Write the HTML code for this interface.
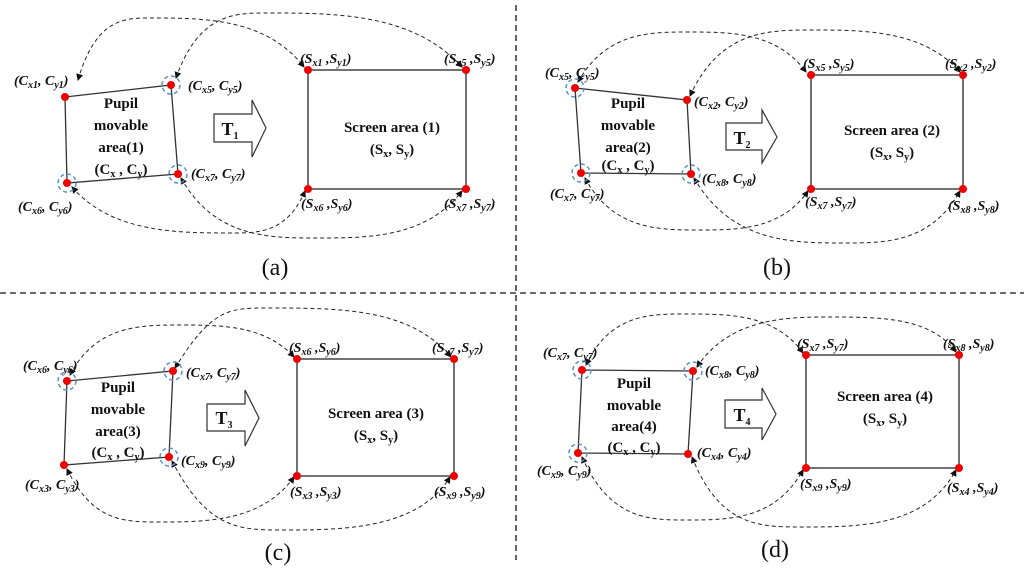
<!DOCTYPE html>
<html><head><meta charset="utf-8"><style>
html,body{margin:0;padding:0;background:#fff;}
svg{display:block;}
text{font-family:"Liberation Serif",serif;font-weight:bold;fill:#111;}
.l{font-size:14px;font-style:italic;}
.c{font-size:15px;text-anchor:middle;}
.cap{font-size:24px;font-weight:normal;text-anchor:middle;}
.s{font-size:10px;}
</style></head><body>
<svg width="1024" height="579" viewBox="0 0 1024 579" xmlns="http://www.w3.org/2000/svg">
<defs><marker id="ah" markerWidth="7" markerHeight="7" refX="6" refY="3.5" orient="auto-start-reverse"><path d="M0,0 L7,3.5 L0,7z" fill="#111"/></marker></defs>
<g stroke="#111" stroke-width="1.3" stroke-dasharray="6,4" fill="none">
<line x1="516" y1="5" x2="516" y2="560"/>
<line x1="0" y1="293" x2="1024" y2="293"/>
</g>

<g fill="none" stroke="#222" stroke-width="1" stroke-dasharray="4,3" marker-start="url(#ah)" marker-end="url(#ah)">
<!-- a -->
<path d="M78,80 C96,18 125,18 150,18 C204,18 266,18 304,67"/>
<path d="M176,78 C199,13 235,13 267,13 C335,13 413,13 462,67"/>
<path d="M72,187 C112,233 177,233 233,233 C258,233 287,233 305,191"/>
<path d="M181,178 C215,238 269,238 317,238 C368,238 426,238 462,191"/>
<!-- b -->
<path d="M578,82 C606,32 650,32 689,32 C730,32 777,32 806,72"/>
<path d="M690,96 C720,30 769,30 812,30 C864,30 923,30 960,72"/>
<path d="M585,178 C613,230 659,230 699,230 C737,230 781,230 808,191"/>
<path d="M694,178 C732,243 792,243 845,243 C885,243 931,243 960,191"/>
<!-- c -->
<path d="M70,375 C96,325 141,325 180,325 C220,325 265,325 294,357"/>
<path d="M175,368 C212,308 230,308 267,308 C340,308 410,308 451,357"/>
<path d="M67,469 C93,522 124,522 160,522 C205,522 262,522 294,477"/>
<path d="M172,461 C208,530 240,530 283,530 C340,530 418,530 450,477"/>
<!-- d -->
<path d="M586,365 C610,314 650,314 685,314 C730,314 775,314 803,353"/>
<path d="M697,367 C730,317 790,317 829,317 C880,317 930,317 956,352"/>
<path d="M582,457 C610,520 650,520 685,520 C730,520 775,520 803,470"/>
<path d="M692,457 C720,527 760,527 802,527 C860,527 925,527 956,470"/>
</g>

<!-- Panel a -->
<g>
<polygon points="65,97 171,85 178,174 67,183" fill="none" stroke="#333" stroke-width="1.3"/>
<rect x="308" y="70" width="158" height="119" fill="none" stroke="#444" stroke-width="1.5"/>
<g fill="none" stroke="#5b8fc9" stroke-width="1.5" stroke-dasharray="4,3"><circle cx="171" cy="85" r="9"/><circle cx="178" cy="174" r="9"/><circle cx="67" cy="183" r="9"/></g>
<g fill="#e00"><circle cx="65" cy="97" r="4"/><circle cx="171" cy="85" r="4"/><circle cx="178" cy="174" r="4"/><circle cx="67" cy="183" r="4"/><circle cx="308" cy="70" r="4"/><circle cx="466" cy="70" r="4"/><circle cx="308" cy="189" r="4"/><circle cx="466" cy="189" r="4"/></g>
<polygon points="214,114 252,114 252,100 266,128 252,157 252,142 214,142" fill="#fff" stroke="#333" stroke-width="1.2"/>
<text x="230" y="135" style="font-size:18px;text-anchor:middle">T<tspan class="s" dy="4">1</tspan></text>
<text class="c" x="121" y="108">Pupil</text><text class="c" x="121" y="130">movable</text><text class="c" x="121" y="152">area(1)</text><text class="c" x="121" y="174">(C<tspan class="s" dy="3">x</tspan><tspan dy="-3"> , C</tspan><tspan class="s" dy="3">y</tspan><tspan dy="-3">)</tspan></text>
<text class="l" x="14" y="85">(C<tspan class="s" dy="3">x1</tspan><tspan dy="-3">, C</tspan><tspan class="s" dy="3">y1</tspan><tspan dy="-3">)</tspan></text>
<text class="l" x="188" y="90">(C<tspan class="s" dy="3">x5</tspan><tspan dy="-3">, C</tspan><tspan class="s" dy="3">y5</tspan><tspan dy="-3">)</tspan></text>
<text class="l" x="191" y="178">(C<tspan class="s" dy="3">x7</tspan><tspan dy="-3">, C</tspan><tspan class="s" dy="3">y7</tspan><tspan dy="-3">)</tspan></text>
<text class="l" x="18" y="211">(C<tspan class="s" dy="3">x6</tspan><tspan dy="-3">, C</tspan><tspan class="s" dy="3">y6</tspan><tspan dy="-3">)</tspan></text>
<text class="l" x="300" y="63">(S<tspan class="s" dy="3">x1</tspan><tspan dy="-3"> ,S</tspan><tspan class="s" dy="3">y1</tspan><tspan dy="-3">)</tspan></text>
<text class="l" x="444" y="63">(S<tspan class="s" dy="3">x5</tspan><tspan dy="-3"> ,S</tspan><tspan class="s" dy="3">y5</tspan><tspan dy="-3">)</tspan></text>
<text class="l" x="301" y="208">(S<tspan class="s" dy="3">x6</tspan><tspan dy="-3"> ,S</tspan><tspan class="s" dy="3">y6</tspan><tspan dy="-3">)</tspan></text>
<text class="l" x="444" y="208">(S<tspan class="s" dy="3">x7</tspan><tspan dy="-3"> ,S</tspan><tspan class="s" dy="3">y7</tspan><tspan dy="-3">)</tspan></text>
<text class="c" x="392" y="132">Screen area (1)</text>
<text class="c" x="392" y="154">(S<tspan class="s" dy="3">x</tspan><tspan dy="-3">, S</tspan><tspan class="s" dy="3">y</tspan><tspan dy="-3">)</tspan></text>
<text class="cap" x="275" y="275">(a)</text>
</g>

<!-- Panel b -->
<g>
<polygon points="575,88 687,100 691,174 581,173" fill="none" stroke="#333" stroke-width="1.3"/>
<rect x="811" y="75" width="152" height="114" fill="none" stroke="#444" stroke-width="1.5"/>
<g fill="none" stroke="#5b8fc9" stroke-width="1.5" stroke-dasharray="4,3"><circle cx="575" cy="88" r="9"/><circle cx="691" cy="174" r="9"/><circle cx="581" cy="173" r="9"/></g>
<g fill="#e00"><circle cx="575" cy="88" r="4"/><circle cx="687" cy="100" r="4"/><circle cx="691" cy="174" r="4"/><circle cx="581" cy="173" r="4"/><circle cx="811" cy="75" r="4"/><circle cx="963" cy="75" r="4"/><circle cx="811" cy="189" r="4"/><circle cx="963" cy="189" r="4"/></g>
<polygon points="726,123 762,123 762,110 777,137 762,163 762,150 726,150" fill="#fff" stroke="#333" stroke-width="1.2"/>
<text x="742" y="144" style="font-size:18px;text-anchor:middle">T<tspan class="s" dy="4">2</tspan></text>
<text class="c" x="628" y="108">Pupil</text><text class="c" x="628" y="130">movable</text><text class="c" x="628" y="152">area(2)</text><text class="c" x="628" y="170">(C<tspan class="s" dy="3">x</tspan><tspan dy="-3"> , C</tspan><tspan class="s" dy="3">y</tspan><tspan dy="-3">)</tspan></text>
<text class="l" x="545" y="77">(C<tspan class="s" dy="3">x5</tspan><tspan dy="-3">, C</tspan><tspan class="s" dy="3">y5</tspan><tspan dy="-3">)</tspan></text>
<text class="l" x="694" y="106">(C<tspan class="s" dy="3">x2</tspan><tspan dy="-3">, C</tspan><tspan class="s" dy="3">y2</tspan><tspan dy="-3">)</tspan></text>
<text class="l" x="702" y="183">(C<tspan class="s" dy="3">x8</tspan><tspan dy="-3">, C</tspan><tspan class="s" dy="3">y8</tspan><tspan dy="-3">)</tspan></text>
<text class="l" x="550" y="198">(C<tspan class="s" dy="3">x7</tspan><tspan dy="-3">, C</tspan><tspan class="s" dy="3">y7</tspan><tspan dy="-3">)</tspan></text>
<text class="l" x="803" y="68">(S<tspan class="s" dy="3">x5</tspan><tspan dy="-3"> ,S</tspan><tspan class="s" dy="3">y5</tspan><tspan dy="-3">)</tspan></text>
<text class="l" x="945" y="68">(S<tspan class="s" dy="3">x2</tspan><tspan dy="-3"> ,S</tspan><tspan class="s" dy="3">y2</tspan><tspan dy="-3">)</tspan></text>
<text class="l" x="805" y="206">(S<tspan class="s" dy="3">x7</tspan><tspan dy="-3"> ,S</tspan><tspan class="s" dy="3">y7</tspan><tspan dy="-3">)</tspan></text>
<text class="l" x="948" y="210">(S<tspan class="s" dy="3">x8</tspan><tspan dy="-3"> ,S</tspan><tspan class="s" dy="3">y8</tspan><tspan dy="-3">)</tspan></text>
<text class="c" x="892" y="135">Screen area (2)</text>
<text class="c" x="892" y="157">(S<tspan class="s" dy="3">x</tspan><tspan dy="-3">, S</tspan><tspan class="s" dy="3">y</tspan><tspan dy="-3">)</tspan></text>
<text class="cap" x="777" y="275">(b)</text>
</g>

<!-- Panel c -->
<g>
<polygon points="67,381 173,371 169,457 64,465" fill="none" stroke="#333" stroke-width="1.3"/>
<rect x="297" y="359" width="157" height="117" fill="none" stroke="#444" stroke-width="1.5"/>
<g fill="none" stroke="#5b8fc9" stroke-width="1.5" stroke-dasharray="4,3"><circle cx="67" cy="381" r="9"/><circle cx="173" cy="371" r="9"/><circle cx="169" cy="457" r="9"/></g>
<g fill="#e00"><circle cx="67" cy="381" r="4"/><circle cx="173" cy="371" r="4"/><circle cx="169" cy="457" r="4"/><circle cx="64" cy="465" r="4"/><circle cx="297" cy="359" r="4"/><circle cx="454" cy="359" r="4"/><circle cx="297" cy="476" r="4"/><circle cx="454" cy="476" r="4"/></g>
<polygon points="207,404 245,404 245,390 259,418 245,446 245,431 207,431" fill="#fff" stroke="#333" stroke-width="1.2"/>
<text x="224" y="424" style="font-size:18px;text-anchor:middle">T<tspan class="s" dy="4">3</tspan></text>
<text class="c" x="118" y="392">Pupil</text><text class="c" x="118" y="414">movable</text><text class="c" x="118" y="436">area(3)</text><text class="c" x="118" y="457">(C<tspan class="s" dy="3">x</tspan><tspan dy="-3"> , C</tspan><tspan class="s" dy="3">y</tspan><tspan dy="-3">)</tspan></text>
<text class="l" x="23" y="370">(C<tspan class="s" dy="3">x6</tspan><tspan dy="-3">, C</tspan><tspan class="s" dy="3">y6</tspan><tspan dy="-3">)</tspan></text>
<text class="l" x="186" y="377">(C<tspan class="s" dy="3">x7</tspan><tspan dy="-3">, C</tspan><tspan class="s" dy="3">y7</tspan><tspan dy="-3">)</tspan></text>
<text class="l" x="181" y="465">(C<tspan class="s" dy="3">x9</tspan><tspan dy="-3">, C</tspan><tspan class="s" dy="3">y9</tspan><tspan dy="-3">)</tspan></text>
<text class="l" x="25" y="489">(C<tspan class="s" dy="3">x3</tspan><tspan dy="-3">, C</tspan><tspan class="s" dy="3">y3</tspan><tspan dy="-3">)</tspan></text>
<text class="l" x="289" y="352">(S<tspan class="s" dy="3">x6</tspan><tspan dy="-3"> ,S</tspan><tspan class="s" dy="3">y6</tspan><tspan dy="-3">)</tspan></text>
<text class="l" x="432" y="352">(S<tspan class="s" dy="3">x7</tspan><tspan dy="-3"> ,S</tspan><tspan class="s" dy="3">y7</tspan><tspan dy="-3">)</tspan></text>
<text class="l" x="290" y="496">(S<tspan class="s" dy="3">x3</tspan><tspan dy="-3"> ,S</tspan><tspan class="s" dy="3">y3</tspan><tspan dy="-3">)</tspan></text>
<text class="l" x="434" y="496">(S<tspan class="s" dy="3">x9</tspan><tspan dy="-3"> ,S</tspan><tspan class="s" dy="3">y9</tspan><tspan dy="-3">)</tspan></text>
<text class="c" x="376" y="418">Screen area (3)</text>
<text class="c" x="376" y="440">(S<tspan class="s" dy="3">x</tspan><tspan dy="-3">, S</tspan><tspan class="s" dy="3">y</tspan><tspan dy="-3">)</tspan></text>
<text class="cap" x="278" y="560">(c)</text>
</g>

<!-- Panel d -->
<g>
<polygon points="582,370 693,371 688,454 578,453" fill="none" stroke="#333" stroke-width="1.3"/>
<rect x="806" y="355" width="153" height="113" fill="none" stroke="#444" stroke-width="1.5"/>
<g fill="none" stroke="#5b8fc9" stroke-width="1.5" stroke-dasharray="4,3"><circle cx="582" cy="370" r="9"/><circle cx="693" cy="371" r="9"/><circle cx="578" cy="453" r="9"/></g>
<g fill="#e00"><circle cx="582" cy="370" r="4"/><circle cx="693" cy="371" r="4"/><circle cx="688" cy="454" r="4"/><circle cx="578" cy="453" r="4"/><circle cx="806" cy="355" r="4"/><circle cx="959" cy="355" r="4"/><circle cx="806" cy="468" r="4"/><circle cx="959" cy="468" r="4"/></g>
<polygon points="725,400 762,400 762,388 776,414 762,440 762,428 725,428" fill="#fff" stroke="#333" stroke-width="1.2"/>
<text x="742" y="421" style="font-size:18px;text-anchor:middle">T<tspan class="s" dy="4">4</tspan></text>
<text class="c" x="634" y="388">Pupil</text><text class="c" x="634" y="410">movable</text><text class="c" x="634" y="431">area(4)</text><text class="c" x="634" y="452">(C<tspan class="s" dy="3">x</tspan><tspan dy="-3"> , C</tspan><tspan class="s" dy="3">y</tspan><tspan dy="-3">)</tspan></text>
<text class="l" x="543" y="357">(C<tspan class="s" dy="3">x7</tspan><tspan dy="-3">, C</tspan><tspan class="s" dy="3">y7</tspan><tspan dy="-3">)</tspan></text>
<text class="l" x="705" y="375">(C<tspan class="s" dy="3">x8</tspan><tspan dy="-3">, C</tspan><tspan class="s" dy="3">y8</tspan><tspan dy="-3">)</tspan></text>
<text class="l" x="697" y="457">(C<tspan class="s" dy="3">x4</tspan><tspan dy="-3">, C</tspan><tspan class="s" dy="3">y4</tspan><tspan dy="-3">)</tspan></text>
<text class="l" x="537" y="475">(C<tspan class="s" dy="3">x9</tspan><tspan dy="-3">, C</tspan><tspan class="s" dy="3">y9</tspan><tspan dy="-3">)</tspan></text>
<text class="l" x="797" y="348">(S<tspan class="s" dy="3">x7</tspan><tspan dy="-3"> ,S</tspan><tspan class="s" dy="3">y7</tspan><tspan dy="-3">)</tspan></text>
<text class="l" x="943" y="348">(S<tspan class="s" dy="3">x8</tspan><tspan dy="-3"> ,S</tspan><tspan class="s" dy="3">y8</tspan><tspan dy="-3">)</tspan></text>
<text class="l" x="800" y="488">(S<tspan class="s" dy="3">x9</tspan><tspan dy="-3"> ,S</tspan><tspan class="s" dy="3">y9</tspan><tspan dy="-3">)</tspan></text>
<text class="l" x="947" y="492">(S<tspan class="s" dy="3">x4</tspan><tspan dy="-3"> ,S</tspan><tspan class="s" dy="3">y4</tspan><tspan dy="-3">)</tspan></text>
<text class="c" x="885" y="401">Screen area (4)</text>
<text class="c" x="885" y="423">(S<tspan class="s" dy="3">x</tspan><tspan dy="-3">, S</tspan><tspan class="s" dy="3">y</tspan><tspan dy="-3">)</tspan></text>
<text class="cap" x="775" y="557">(d)</text>
</g>
</svg>
</body></html>
